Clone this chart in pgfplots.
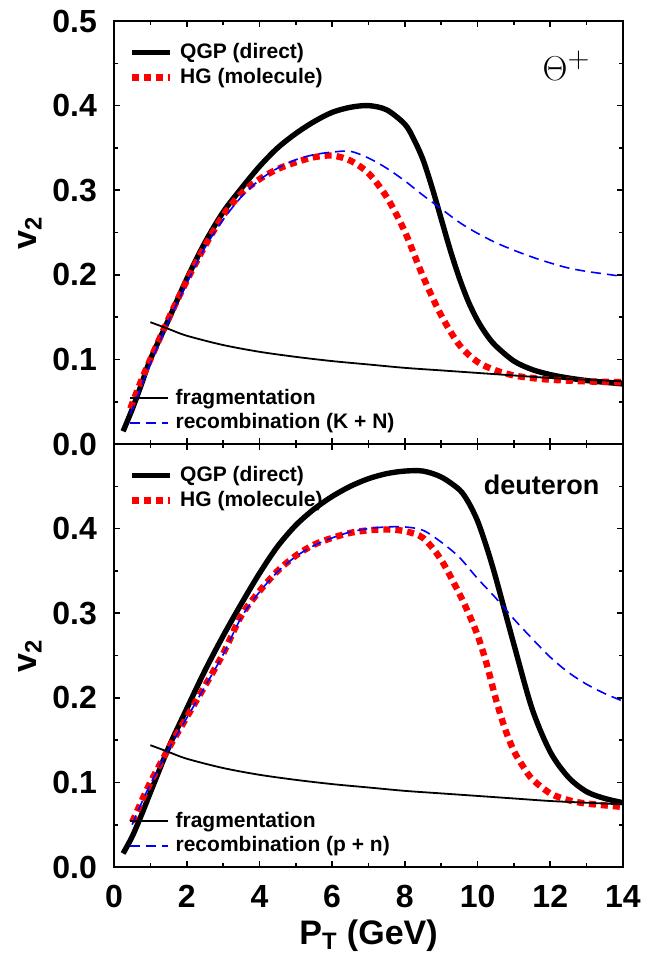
\documentclass[border=0pt]{standalone}
\usepackage{fontspec}
\setmainfont{Liberation Sans}
\usepackage{pgfplots}
\pgfplotsset{compat=1.18}

% curves: v2 vs pT
\pgfplotstableread{
x y
1 0.144
1.5 0.136
2 0.128
3 0.117
4 0.109
5 0.103
6 0.098
7 0.094
8 0.090
9 0.087
10 0.084
11 0.081
12 0.078
13 0.076
14 0.074
}\frag

\begin{document}
\begin{tikzpicture}
\useasboundingbox (-57pt,-44pt) rectangle (272pt,433.5pt);
\pgfplotsset{
  panel/.style={
    width=254.5pt, height=211.5pt, scale only axis,
    xmin=0, xmax=14, ymin=0, ymax=0.5,
    xtick={0,2,4,6,8,10,12,14}, minor xtick={1,3,5,7,9,11,13},
    ytick={0,0.1,0.2,0.3,0.4,0.5}, minor ytick={0.05,0.15,0.25,0.35,0.45},
    major tick length=3pt, minor tick length=2pt,
    tick style={line width=0.8pt, black},
    axis line style={line width=1pt},
    tick label style={font=\bfseries\fontsize{16}{16}\selectfont},
    yticklabel style={xshift=-5pt},
    xticklabel style={yshift=-5.5pt},
    label style={font=\bfseries\fontsize{17}{17}\selectfont},
    xlabel style={yshift=1pt},
    /pgf/number format/assume math mode=true,
    ylabel={v\textsubscript{2}},
    ylabel style={at={(axis description cs:-0.165,0.5)}, anchor=center},
    legend cell align=left,
    legend image code/.code={\draw[##1] (0pt,0pt) -- (19pt,0pt);},
    legend style={draw=none, fill=none, inner sep=0pt,
      font=\bfseries\fontsize{10.5}{12}\selectfont, row sep=0pt,
      column sep=2pt, nodes={inner sep=1.6pt}},
  },
  over/.style={panel, hide axis},
  qgp/.style={black, line width=2.7pt, smooth},
  hg/.style={red, line width=3.2pt, dash pattern=on 3.5pt off 2.5pt, smooth},
  fr/.style={black, line width=0.9pt, smooth},
  rc/.style={blue, line width=0.8pt, dash pattern=on 5pt off 3pt, smooth},
}
% ---------------- top panel: Theta+
\begin{axis}[panel, at={(0,211.5pt)}, xticklabels={},
  yticklabels={0.0,0.1,0.2,0.3,0.4,0.5},
  legend style={at={(0.028,0.955)}, anchor=north west}]
\addplot[qgp] coordinates {
(0.25,0.015) (0.5,0.041) (0.75,0.07) (1,0.1) (1.5,0.147) (2,0.195)
(2.5,0.238) (3,0.274) (3.5,0.302) (4,0.328) (4.5,0.35) (5,0.367)
(5.5,0.381) (6,0.392) (6.5,0.398) (7,0.4) (7.5,0.395) (8,0.378)
(8.25,0.36) (8.5,0.336) (8.75,0.303) (9,0.266) (9.25,0.229) (9.5,0.196)
(9.75,0.168) (10,0.146) (10.25,0.129) (10.5,0.116) (11,0.098) (11.5,0.088)
(12,0.082) (12.5,0.078) (13,0.075) (13.5,0.073) (14,0.071)};
\addlegendentry{QGP (direct)}
\addplot[hg] coordinates {
(0.45,0.042) (0.75,0.075) (1,0.1) (1.5,0.148) (2,0.193) (2.5,0.234)
(3,0.27) (3.5,0.296) (4,0.313) (4.5,0.325) (5,0.333) (5.5,0.339)
(6,0.341) (6.5,0.335) (7,0.32) (7.5,0.292) (8,0.251) (8.5,0.198)
(9,0.152) (9.5,0.117) (10,0.097) (10.5,0.087) (11,0.081) (11.5,0.078)
(12,0.076) (13,0.074) (14,0.073)};
\addlegendentry{HG (molecule)}
\node[anchor=center, font=\fontsize{19}{19}\selectfont] at (axis cs:12.45,0.447) {$\Theta^{+}$};
\end{axis}
\begin{axis}[over, at={(0,211.5pt)},
  legend style={at={(0.028,0.02)}, anchor=south west}]
\addplot[fr] table {\frag};
\addlegendentry{fragmentation}
\addplot[rc] coordinates {
(0.45,0.035) (0.75,0.068) (1,0.095) (1.5,0.145) (2,0.19) (2.5,0.232)
(3,0.265) (3.5,0.292) (4,0.312) (4.5,0.326) (5,0.336) (5.5,0.342)
(6,0.345) (6.5,0.346) (7,0.338) (7.5,0.326) (8,0.311) (8.5,0.294)
(9,0.278) (9.5,0.262) (10,0.249) (10.5,0.238) (11,0.229) (11.5,0.221)
(12,0.214) (12.5,0.208) (13,0.204) (13.5,0.201) (14,0.198)};
\addlegendentry{recombination (K + N)}
\end{axis}
% ---------------- bottom panel: deuteron
\begin{axis}[panel, at={(0,0)}, xlabel={P\textsubscript{T} (GeV)},
  yticklabels={0.0,0.1,0.2,0.3,0.4,{}},
  legend style={at={(0.028,0.955)}, anchor=north west}]
\addplot[qgp] coordinates {
(0.25,0.016) (0.5,0.036) (0.75,0.061) (1,0.088) (1.5,0.141) (2,0.187)
(2.5,0.232) (3,0.273) (3.5,0.311) (4,0.347) (4.5,0.379) (5,0.404)
(5.5,0.423) (6,0.438) (6.5,0.45) (7,0.459) (7.5,0.465) (8,0.468)
(8.5,0.468) (9,0.461) (9.5,0.446) (9.75,0.431) (10,0.409) (10.25,0.378)
(10.5,0.342) (11,0.263) (11.5,0.187) (12,0.136) (12.5,0.106) (13,0.089)
(13.5,0.081) (14,0.076)};
\addlegendentry{QGP (direct)}
\addplot[hg] coordinates {
(0.5,0.053) (0.75,0.077) (1,0.1) (1.5,0.14) (2,0.177) (2.5,0.214)
(3,0.252) (3.5,0.297) (4,0.326) (4.5,0.35) (5,0.368) (5.5,0.381)
(6,0.389) (6.5,0.395) (7,0.398) (7.5,0.399) (8,0.397) (8.5,0.389)
(9,0.363) (9.5,0.323) (9.75,0.3) (10,0.274) (10.25,0.24) (10.5,0.199)
(10.75,0.164) (11,0.137) (11.25,0.119) (11.5,0.104) (12,0.087) (12.5,0.079)
(13,0.075) (14,0.071)};
\addlegendentry{HG (molecule)}
\node[font=\bfseries\fontsize{13.5}{13.5}\selectfont] at (axis cs:11.76,0.452) {deuteron};
\end{axis}
\begin{axis}[over, at={(0,0)},
  legend style={at={(0.028,0.02)}, anchor=south west}]
\addplot[fr] table {\frag};
\addlegendentry{fragmentation}
\addplot[rc] coordinates {
(0.5,0.05) (0.75,0.075) (1,0.098) (1.5,0.139) (2,0.176) (2.5,0.213)
(3,0.251) (3.5,0.295) (4,0.325) (4.5,0.349) (5,0.367) (5.5,0.38)
(6,0.389) (6.5,0.396) (7,0.4) (7.5,0.402) (8,0.402) (8.5,0.398)
(9,0.384) (9.5,0.366) (10,0.341) (10.5,0.318) (11,0.293) (11.5,0.27)
(12,0.248) (12.5,0.23) (13,0.216) (13.5,0.205) (14,0.196)};
\addlegendentry{recombination (p + n)}
\end{axis}
\end{tikzpicture}
\end{document}
